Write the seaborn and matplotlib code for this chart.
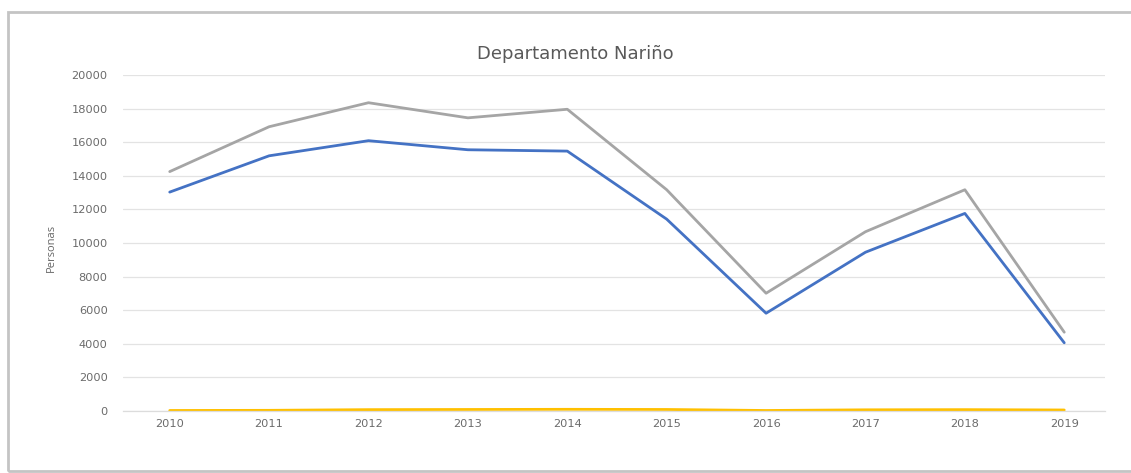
import matplotlib
matplotlib.use("Agg")
import matplotlib.pyplot as plt
import matplotlib.patches as mpatches
import seaborn as sns
import pandas as pd

years = ["2010", "2011", "2012", "2013", "2014", "2015", "2016", "2017", "2018", "2019"]
serie_azul = [13030, 15190, 16090, 15550, 15470, 11420, 5820, 9450, 11760, 4060]
serie_gris = [14250, 16920, 18350, 17450, 17960, 13170, 7010, 10670, 13170, 4690]
serie_amarilla = [30, 40, 80, 90, 100, 90, 30, 70, 80, 60]
series_names = ["Serie 1", "Serie 2", "Serie 3"]
colors = ["#4472C4", "#FFC000", "#A5A5A5"]
title = "Departamento Nariño"
ylabel = "Personas"
yticks = list(range(0, 20001, 2000))

rows = []
for name, vals in zip(series_names, [serie_azul, serie_amarilla, serie_gris]):
    for i, v in enumerate(vals):
        rows.append({"idx": i, "year": years[i], "valor": v, "serie": name})
df = pd.DataFrame(rows)

sns.set_theme(style="white")
plt.rcParams["font.family"] = ["DejaVu Sans"]

W, H = 1131, 473
fig = plt.figure(figsize=(W / 100, H / 100), dpi=100)
fig.patch.set_facecolor("white")

# outer chart frame (screenshot border)
fig.patches.append(mpatches.Rectangle((8 / W, 1 - 471 / H), 1.2, (471 - 12) / H,
                                      transform=fig.transFigure, fill=False,
                                      edgecolor="#c4c4c4", lw=2.0, zorder=0))

ax = fig.add_axes([123 / W, 1 - 411 / H, (1105 - 123) / W, (411 - 75) / H])
sns.lineplot(data=df, x="idx", y="valor", hue="serie", palette=colors,
             hue_order=series_names, linewidth=2.0, legend=False, ax=ax,
             sort=False)

ax.set_xlim(-0.47, 9.41)
ax.set_ylim(0, 20000)
ax.set_yticks(yticks)
ax.set_yticklabels([str(t) for t in yticks])
ax.set_xticks(range(len(years)))
ax.set_xticklabels(years)
ax.grid(axis="y", color="#e3e3e3", linewidth=0.9)
ax.grid(axis="x", visible=False)
ax.set_axisbelow(True)
for s in ["top", "right", "left"]:
    ax.spines[s].set_visible(False)
ax.spines["bottom"].set_color("#dcdcdc")
ax.spines["bottom"].set_linewidth(0.9)
ax.tick_params(axis="both", length=0, labelsize=8.2, labelcolor="#6b6b6b")
ax.tick_params(axis="y", pad=11)
ax.tick_params(axis="x", pad=6)
ax.set_xlabel("")
ax.set_ylabel(ylabel, fontsize=8, color="#666666", family=["Open Sans", "DejaVu Sans"])
ax.yaxis.set_label_coords(-66 / (1105 - 123), 0.485)

fig.text(575 / W, 1 - 54 / H, title, ha="center", va="center",
         fontsize=13, color="#595959")

fig.savefig("out.png", dpi=100)
